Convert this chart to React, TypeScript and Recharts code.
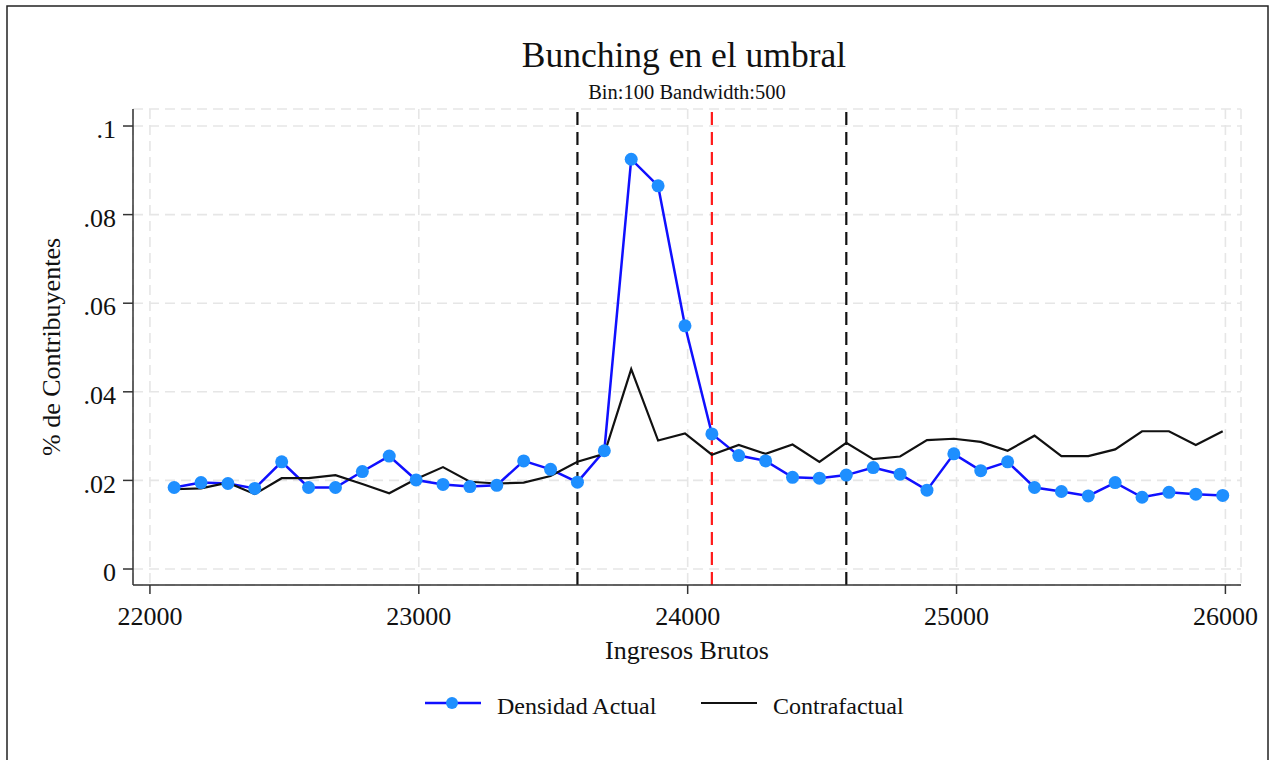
import React from "react";
import { LineChart, Line, XAxis, YAxis, CartesianGrid, ReferenceLine } from "recharts";

// bin midpoints (Ingresos Brutos)
const bins = [
  22090, 22190, 22290, 22390, 22490, 22590, 22690, 22790, 22890, 22990,
  23090, 23190, 23290, 23390, 23490, 23590, 23690, 23790, 23890, 23990,
  24090, 24190, 24290, 24390, 24490, 24590, 24690, 24790, 24890, 24990,
  25090, 25190, 25290, 25390, 25490, 25590, 25690, 25790, 25890, 25990,
];

const densidadActual = [
  0.0184, 0.0195, 0.0193, 0.0182, 0.0242, 0.0184, 0.0184, 0.022, 0.0255, 0.0201,
  0.0191, 0.0186, 0.0189, 0.0244, 0.0225, 0.0196, 0.0267, 0.0925, 0.0865, 0.0549,
  0.0305, 0.0256, 0.0244, 0.0207, 0.0205, 0.0212, 0.0229, 0.0214, 0.0178, 0.026,
  0.0222, 0.0242, 0.0184, 0.0175, 0.0165, 0.0195, 0.0162, 0.0173, 0.0169, 0.0166,
];

const contrafactual = [
  0.018, 0.0182, 0.0195, 0.0169, 0.0205, 0.0205, 0.0212, 0.0192, 0.0171, 0.0203,
  0.023, 0.0197, 0.0193, 0.0195, 0.021, 0.0242, 0.026, 0.0451, 0.029, 0.0306,
  0.0258, 0.028, 0.026, 0.0281, 0.0242, 0.0285, 0.0248, 0.0254, 0.0291, 0.0294,
  0.0287, 0.0267, 0.0301, 0.0255, 0.0255, 0.027, 0.0311, 0.0311, 0.028, 0.0311,
];

const xTicks = [22000, 23000, 24000, 25000, 26000];
const yTicks = [0, 0.02, 0.04, 0.06, 0.08, 0.1];
const windowLines = [23590, 24590];
const threshold = 24090;

const data = bins.map((x, i) => ({
  x,
  actual: densidadActual[i],
  contra: contrafactual[i],
}));

const serif = "'Liberation Serif', 'Times New Roman', serif";

const fmtY = (v: number) => (v === 0 ? "0" : String(Number(v.toFixed(2))).replace(/^0/, ""));

export default function App() {
  return (
    <div style={{ position: "absolute", left: 0, top: 0, width: 1272, height: 760, background: "#fff", overflow: "hidden" }}>
      <LineChart
        width={1272}
        height={760}
        data={data}
        margin={{ top: 109, right: 31, bottom: 135, left: 0 }}
      >
        <CartesianGrid stroke="#e6e6e6" strokeWidth={1.6} strokeDasharray="10 6" />
        <XAxis
          dataKey="x"
          type="number"
          domain={[21937, 26058]}
          ticks={xTicks}
          allowDataOverflow
          height={40}
          tickSize={9}
          tickMargin={13}
          stroke="#333"
          strokeWidth={1.5}
          tick={{ fill: "#111", fontSize: 26, fontFamily: serif }}
        />
        <YAxis
          type="number"
          domain={[-0.00361, 0.10384]}
          ticks={yTicks}
          allowDataOverflow
          width={133}
          tickSize={10}
          tickMargin={7}
          stroke="#333"
          strokeWidth={1.5}
          tickFormatter={fmtY}
          tick={{ fill: "#111", fontSize: 26, fontFamily: serif, dy: 3 }}
        />
        {windowLines.map((x) => (
          <ReferenceLine key={x} x={x} stroke="#111" strokeWidth={2.2} strokeDasharray="13 7" />
        ))}
        <ReferenceLine x={threshold} stroke="#ff1a1a" strokeWidth={2.2} strokeDasharray="13 7" />
        <Line
          dataKey="actual"
          stroke="#1010ff"
          strokeWidth={2.5}
          dot={{ r: 6.5, fill: "#1e8fff", stroke: "none" }}
          isAnimationActive={false}
        />
        <Line
          dataKey="contra"
          stroke="#111"
          strokeWidth={2.2}
          dot={false}
          isAnimationActive={false}
        />
      </LineChart>
      <svg
        width={1272}
        height={760}
        style={{ position: "absolute", left: 0, top: 0, pointerEvents: "none" }}
        fontFamily={serif}
      >
        <rect x={7} y={6} width={1261} height={800} fill="none" stroke="#222" strokeWidth={1.5} />
        <text x={684} y={67} textAnchor="middle" fontSize={35.5} fill="#111">
          Bunching en el umbral
        </text>
        <text x={687} y={99} textAnchor="middle" fontSize={20.5} fill="#111">
          Bin:100 Bandwidth:500
        </text>
        <text x={687} y={659} textAnchor="middle" fontSize={26} fill="#111">
          Ingresos Brutos
        </text>
        <text x={60} y={347} textAnchor="middle" fontSize={26} fill="#111" transform="rotate(-90 60 347)">
          % de Contribuyentes
        </text>
        <line x1={425} y1={703} x2={481} y2={703} stroke="#1010ff" strokeWidth={2.5} />
        <circle cx={452} cy={703} r={6} fill="#1e8fff" />
        <text x={497} y={714} fontSize={24} fill="#111">
          Densidad Actual
        </text>
        <line x1={701} y1={703} x2={757} y2={703} stroke="#111" strokeWidth={2.2} />
        <text x={773} y={714} fontSize={24} fill="#111">
          Contrafactual
        </text>
      </svg>
    </div>
  );
}
